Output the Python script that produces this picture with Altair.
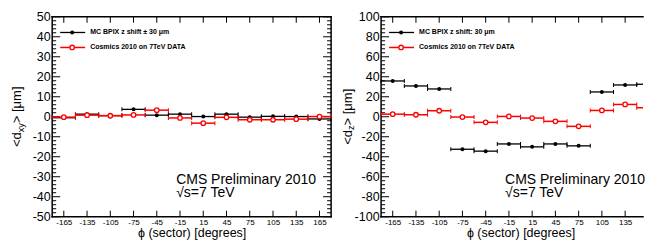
import altair as alt
import pandas as pd

# ---------------- data ----------------
phi = [-165, -135, -105, -75, -45, -15, 15, 45, 75, 105, 135, 165]
bin_half = 15

dxy_mc = [-0.5, 1.3, 0.6, 3.7, 0.8, 1.3, 0.1, 1.3, -0.2, 0.2, 0.1, -1.1]
dxy_data = [-0.2, 0.8, 0.5, 0.9, 3.3, -0.6, -3.2, -0.3, -1.5, -1.5, -1.2, 0.1]

dz_mc = [35.8, 30.8, 27.8, -32.5, -34.4, -27.2, -30.1, -27.2, -29.1, 24.8, 31.8, 32.5]
dz_data = [2.6, 2.0, 6.0, -0.3, -5.6, 0.3, -1.3, -4.6, -9.6, 6.3, 12.3, 9.0]

x_tick_values = phi
xy_major = [-50, -40, -30, -20, -10, 0, 10, 20, 30, 40, 50]
xy_minor = [v for v in range(-50, 51, 2) if v % 10]
z_major = [-100, -80, -60, -40, -20, 0, 20, 40, 60, 80, 100]
z_minor = [v for v in range(-100, 101, 4) if v % 20]

x_title = "ϕ (sector) [degrees]"
legend_mc_left = "MC BPIX z shift ± 30 μm"
legend_mc_right = "MC BPIX z shift: 30 μm"
legend_data = "Cosmics 2010 on 7TeV DATA"
cms_text = "CMS Preliminary 2010"
energy_text = "√s=7 TeV"

W_FULL, H = 279, 200          # full frame size of a panel
W_RIGHT_VISIBLE = 262         # the right panel runs past the picture's edge
FONT = "Liberation Sans"
RED = "#ff0000"


def frame(values):
    return pd.DataFrame({
        "phi": phi,
        "lo": [p - bin_half for p in phi],
        "hi": [p + bin_half for p in phi],
        "v": values,
    })


def panel(mc, data, ydom, ymajor, yminor, sub, legend_mc, tx, wview):
    W = W_FULL
    full = wview >= W
    xmax = -180 + 360 * wview / W           # last visible angle
    xs = alt.Scale(domain=[-180, xmax], nice=False, zero=False, clamp=True)
    ys = alt.Scale(domain=ydom, nice=False, zero=False)
    visible_ticks = [v for v in x_tick_values if v <= xmax - 3]
    xaxis = alt.Axis(values=visible_ticks, labelExpr="'' + datum.value",
                     labelFontSize=8, labelPadding=2, labelFlush=False,
                     title=x_title, titleFontSize=12.5, titleFontWeight="normal",
                     titlePadding=0, titleX=W / 2)
    yaxis = alt.Axis(values=ymajor, labelExpr="'' + datum.value",
                     labelFontSize=12.5, labelPadding=2, title=None)

    def X(f):
        return alt.X(f, scale=xs, axis=xaxis)

    def Y(f):
        return alt.Y(f, scale=ys, axis=yaxis)

    layers = []
    one = alt.Chart(pd.DataFrame({"k": [0]}))
    # frame
    fkw = dict(color="black", strokeWidth=1.5, strokeCap="square")
    layers.append(one.mark_rule(**fkw).encode(x=alt.value(0), y=alt.value(0), y2=alt.value(H)))
    if full:
        layers.append(one.mark_rule(**fkw).encode(x=alt.value(W), y=alt.value(0), y2=alt.value(H)))
    layers.append(one.mark_rule(**fkw).encode(y=alt.value(0), x=alt.value(0), x2=alt.value(wview)))
    layers.append(one.mark_rule(**fkw).encode(y=alt.value(H), x=alt.value(0), x2=alt.value(wview)))

    # inner ticks (ROOT style)
    ymaj = alt.Chart(pd.DataFrame({"t": ymajor}))
    ymin = alt.Chart(pd.DataFrame({"t": yminor}))
    xmaj = alt.Chart(pd.DataFrame({"t": visible_ticks}))
    tkw = dict(color="black", strokeWidth=1)
    for src, ln in ((ymaj, 8), (ymin, 4)):
        layers.append(src.mark_rule(**tkw).encode(
            y=Y("t:Q"), x=alt.value(0), x2=alt.value(ln)))
        if full:
            layers.append(src.mark_rule(**tkw).encode(
                y=Y("t:Q"), x=alt.value(W), x2=alt.value(W - ln)))
    layers.append(xmaj.mark_rule(**tkw).encode(
        x=X("t:Q"), y=alt.value(0), y2=alt.value(6)))
    layers.append(xmaj.mark_rule(**tkw).encode(
        x=X("t:Q"), y=alt.value(H), y2=alt.value(H - 6)))

    # series: horizontal bin bars with end caps and markers
    for vals, col, sw, is_mc in ((mc, "black", 1.3, True), (data, RED, 1.5, False)):
        base = alt.Chart(frame(vals))
        layers.append(base.mark_rule(color=col, strokeWidth=sw).encode(
            x=X("lo:Q"), x2="hi:Q", y=Y("v:Q")))
        layers.append(base.transform_fold(["lo", "hi"], as_=["end", "xe"]).transform_filter(
            alt.datum.xe <= xmax).mark_tick(
            orient="vertical", size=4, thickness=1, color=col, opacity=1).encode(
            x=X("xe:Q"), y=Y("v:Q")))
        vis = base.transform_filter(alt.datum.phi <= xmax - 2)
        if is_mc:
            pts = vis.mark_point(shape="circle", filled=True, size=16, color="black",
                                 opacity=1)
        else:
            pts = vis.mark_point(shape="circle", size=20, stroke=RED, fill="white",
                                 fillOpacity=1, strokeWidth=1.3, opacity=1)
        layers.append(pts.encode(x=X("phi:Q"), y=Y("v:Q")))

    # legend (drawn inside the frame, top-left)
    leg = [(legend_mc, 15.7, "black", True), (legend_data, 30.7, RED, False)]
    for label, yy, col, is_mc in leg:
        src = alt.Chart(pd.DataFrame({"label": [label]}))
        layers.append(src.mark_rule(color=col, strokeWidth=1.3 if is_mc else 1.5).encode(
            x=alt.value(8), x2=alt.value(33), y=alt.value(yy)))
        if is_mc:
            layers.append(src.mark_point(shape="circle", filled=True, size=16, color="black",
                                         opacity=1).encode(x=alt.value(20), y=alt.value(yy)))
        else:
            layers.append(src.mark_point(shape="circle", size=20, stroke=RED, fill="white",
                                         fillOpacity=1, strokeWidth=1.3, opacity=1).encode(
                x=alt.value(20), y=alt.value(yy)))
        layers.append(src.mark_text(align="left", baseline="middle", font=FONT, fontSize=7,
                                    fontWeight="bold", color="black").encode(
            text="label:N", x=alt.value(38), y=alt.value(yy)))

    # CMS label
    layers.append(alt.Chart(pd.DataFrame({"t": [cms_text]})).mark_text(
        align="left", baseline="alphabetic", font=FONT, fontSize=14, color="black").encode(
        text="t:N", x=alt.value(124), y=alt.value(167.5)))
    layers.append(alt.Chart(pd.DataFrame({"t": [energy_text]})).mark_text(
        align="left", baseline="alphabetic", font=FONT, fontSize=14, color="black").encode(
        text="t:N", x=alt.value(124), y=alt.value(180)))

    # y title "<d_sub> [μm]" rotated, with a real subscript
    fs, sfs = 13, 9
    w_main1 = (0.584 + 0.556) * fs
    w_sub = 0.5 * len(sub) * sfs
    w_main2 = (0.584 + 0.278 + 0.278 + 0.576 + 0.833 + 0.278) * fs
    total = w_main1 + w_sub + w_main2
    ystart = H / 2 + total / 2
    pieces = [("<d", fs, ystart, tx), (sub, sfs, ystart - w_main1, tx + 3.5),
              ("> [μm]", fs, ystart - w_main1 - w_sub, tx)]
    for txt, size, yy, xx in pieces:
        layers.append(alt.Chart(pd.DataFrame({"t": [txt]})).mark_text(
            align="left", baseline="middle", angle=270, font=FONT, fontSize=size,
            color="black").encode(text="t:N", x=alt.value(xx), y=alt.value(yy)))

    return alt.layer(*layers).properties(width=wview, height=H)


left = panel(dxy_mc, dxy_data, [-50, 50], xy_major, xy_minor, "xy", legend_mc_left,
             -35, W_FULL)
right = panel(dz_mc, dz_data, [-100, 100], z_major, z_minor, "z", legend_mc_right,
              -33.5, W_RIGHT_VISIBLE)

chart = alt.hconcat(left, right, spacing=50, bounds="flush").properties(
    padding={"left": 2.2, "top": 1.75, "right": 0, "bottom": 0},
    background="white",
).configure_view(stroke="transparent").configure_axis(
    labelFont=FONT, titleFont=FONT, labelColor="black", titleColor="black",
    ticks=False, tickSize=0, domain=False, grid=False,
)

chart.save("out.html", embed_options={"renderer": "svg", "actions": False})
